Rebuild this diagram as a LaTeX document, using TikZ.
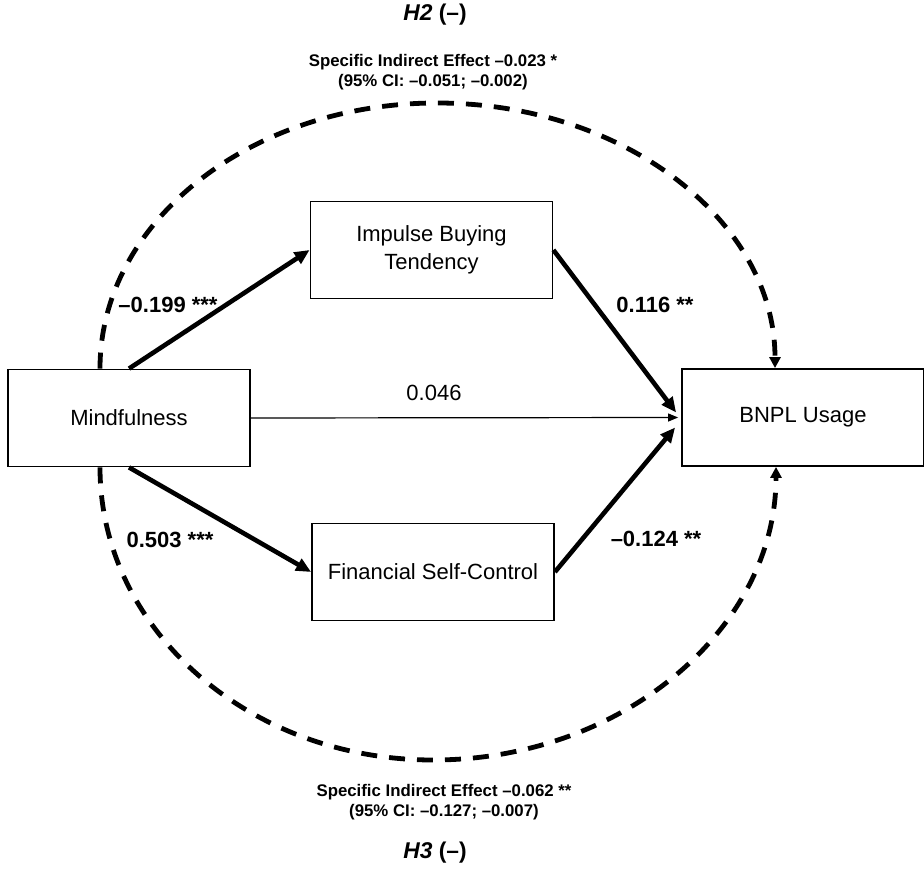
\documentclass[tikz,border=0pt]{standalone}
\usepackage{fontspec}
\setmainfont{Liberation Sans}
\usetikzlibrary{arrows.meta,calc}

\begin{document}
\begin{tikzpicture}[line join=miter,x=0.5pt,y=-0.5pt,
  box/.style={draw,line width=0.9pt,minimum width=121pt,minimum height=48.5pt,
    align=center,font=\fontsize{11}{14}\selectfont},
  patharrow/.style={line width=2.3pt,-{Triangle[length=7.5pt,width=6.5pt]}},
  direct/.style={line width=0.6pt,-{Triangle[length=5pt,width=4pt]}},
  indirect/.style={line width=2.4pt,dash pattern=on 8pt off 6pt,
    -{Triangle[length=5.5pt,width=5.5pt]}},
  coef/.style={font=\fontsize{11}{13}\selectfont\bfseries},
  note/.style={font=\fontsize{8.4}{10}\selectfont\bfseries,align=center},
  hyp/.style={font=\fontsize{11.4}{13}\selectfont\bfseries}]

\useasboundingbox (0,0) rectangle (924,870);

% constructs
\node[box] (mind) at (129,418) {Mindfulness};
\node[box] (ibt) at (431.5,250) {Impulse Buying\\Tendency};
\node[box] (fsc) at (433,572) {Financial Self-Control};
\node[box] (bnpl) at (803,417.5) {BNPL Usage};

% arrow ends on BNPL
\coordinate (inA) at ($(bnpl.west)+(-5,-5)$);
\coordinate (inB) at ($(bnpl.west)+(-3,0)$);
\coordinate (inC) at ($(bnpl.west)+(-6,10)$);

\draw[patharrow] (mind.north) -- (ibt.west);
\draw[patharrow] (ibt.east) -- (inA);
\draw[direct] (mind.east) -- (inB);
\draw[patharrow] (mind.south) -- (fsc.west);
\draw[patharrow] (fsc.east) -- (inC);

% indirect effects
\coordinate (h2top) at (437,103);
\coordinate (h3bot) at (433,760);
\draw[indirect] ($(mind.north)+(-29,0)$) .. controls +(0,-147) and +(-186,0) .. (h2top)
  .. controls +(187,0) and +(0,-147) .. ($(bnpl.north)+(-28,0)$);
\draw[indirect] ($(mind.south)+(-29,0)$) .. controls +(0,162) and +(-184,0) .. (h3bot)
  .. controls +(189,0) and +(0,162) .. ($(bnpl.south)+(-27,0)$);

% coefficients
\node[coef] (a1) at (168,305) {--0.199 ***};
\node[coef] (b1) at (655,305) {0.116 **};
\node[font=\fontsize{11}{13}\selectfont] (c1) at (434,393) {0.046};
\node[coef] (a2) at (170,540) {0.503 ***};
\node[coef] (b2) at (656,539) {--0.124 **};

% hypotheses
\node[hyp] (h2) at (435,15) {\textit{H2} (--)};
\node[note] (h2eff) at (433,72) {Specific Indirect Effect --0.023 *\\(95\% CI: --0.051; --0.002)};
\node[note] (h3eff) at (444,802) {Specific Indirect Effect --0.062 **\\(95\% CI: --0.127; --0.007)};
\node[hyp] (h3) at (435,853) {\textit{H3} (--)};

\end{tikzpicture}
\end{document}
